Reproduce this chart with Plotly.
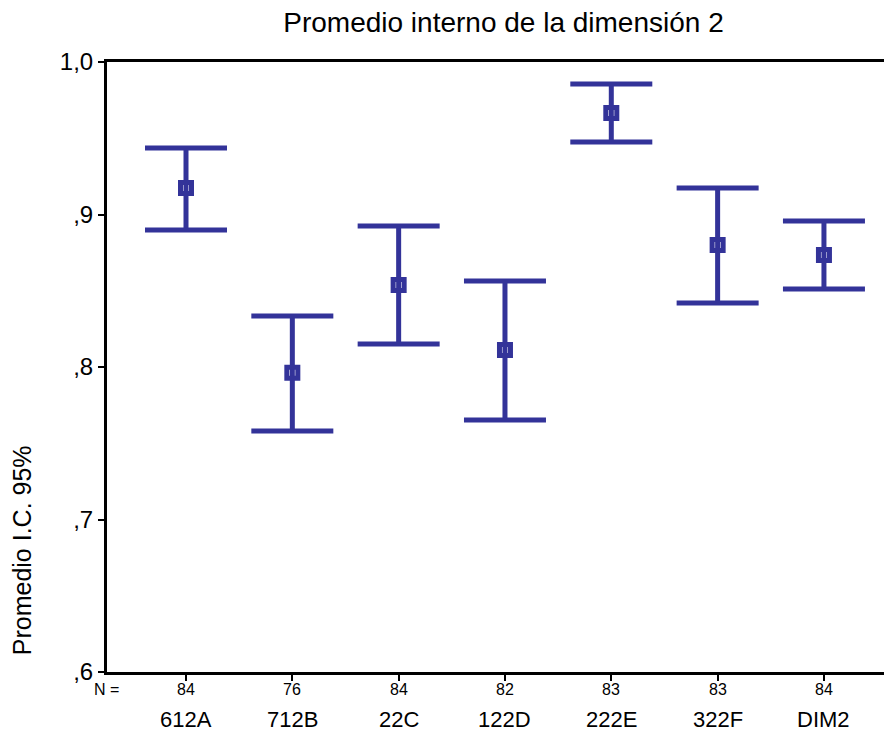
import plotly.graph_objects as go

categories = ["612A", "712B", "22C", "122D", "222E", "322F", "DIM2"]
n_values = [84, 76, 84, 82, 83, 83, 84]
means = [0.9174, 0.7962, 0.8538, 0.8111, 0.9666, 0.8800, 0.8734]
upper = [0.9436, 0.8334, 0.8925, 0.8564, 0.9856, 0.9174, 0.8957]
lower = [0.8898, 0.7580, 0.8151, 0.7652, 0.9475, 0.8420, 0.8511]
ytick_vals = [0.6, 0.7, 0.8, 0.9, 1.0]
ytick_text = [",6", ",7", ",8", ",9", "1,0"]

color = "rgb(51,51,153)"
font = "Liberation Sans, Arial, sans-serif"

xs = list(range(len(categories)))
fig = go.Figure()
fig.add_trace(go.Scatter(
    x=xs, y=means, mode="markers",
    marker=dict(symbol="square-open", size=11, color=color, line=dict(width=5, color=color)),
    error_y=dict(type="data", symmetric=False,
                 array=[u - m for u, m in zip(upper, means)],
                 arrayminus=[m - l for m, l in zip(means, lower)],
                 color=color, thickness=5, width=41),
    showlegend=False, hoverinfo="skip",
))

annotations = []
for x, n, c in zip(xs, n_values, categories):
    annotations.append(dict(x=x, y=-0.028, xref="x", yref="paper", text=str(n), showarrow=False,
                            yanchor="middle", font=dict(size=16, color="black", family=font)))
    annotations.append(dict(x=x, y=-0.1005, xref="x", yref="paper", text=c, showarrow=False,
                            yanchor="bottom", borderpad=0,
                            font=dict(size=22, color="black", family=font)))
annotations.append(dict(x=-0.001, y=-0.028, xref="paper", yref="paper", text="N =", showarrow=False,
                        xanchor="center", yanchor="middle", font=dict(size=16, color="black", family=font)))
annotations.append(dict(x=-0.108, y=0.2, xref="paper", yref="paper", text="Promedio I.C. 95%",
                        showarrow=False, textangle=-90, xanchor="center", yanchor="middle",
                        font=dict(size=25, color="black", family=font)))

fig.update_layout(
    width=884, height=727,
    margin=dict(l=99, r=0, t=54, b=63),
    paper_bgcolor="white", plot_bgcolor="white",
    title=dict(text="Promedio interno de la dimensión 2", x=495.5 / 884, xanchor="center",
               y=1 - 14 / 727, yanchor="middle", font=dict(size=28, color="black", family=font)),
    xaxis=dict(range=[-0.743, 6.64], tickvals=xs, ticktext=[""] * len(xs), ticks="outside",
               ticklen=6, tickwidth=2, tickcolor="black", showline=True, linecolor="black",
               linewidth=3, mirror=True, showgrid=False, zeroline=False),
    yaxis=dict(range=[0.6, 1.0], tickvals=ytick_vals, ticktext=ytick_text, ticks="outside",
               ticklen=6, tickwidth=2, tickcolor="black", showline=True, linecolor="black",
               linewidth=3, showgrid=False, zeroline=False,
               tickfont=dict(size=24, color="black", family=font)),
    annotations=annotations,
)
fig.write_html("out.html")
